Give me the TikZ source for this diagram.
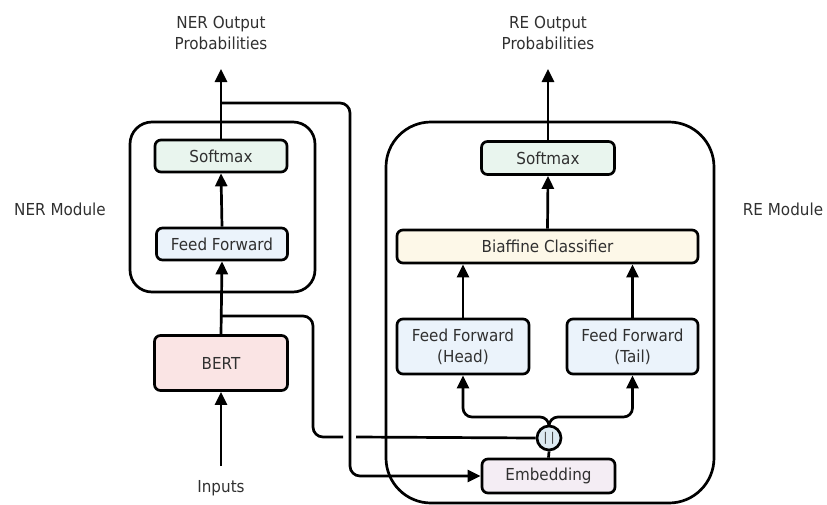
\documentclass[tikz,border=0pt]{standalone}
\usepackage{fontspec}
\setmainfont{DejaVu Sans}[FakeStretch=0.92]
\usetikzlibrary{arrows.meta,calc}
\definecolor{txt}{HTML}{303030}
\definecolor{smfill}{HTML}{E9F5EE}
\definecolor{fffill}{HTML}{EBF3FB}
\definecolor{bertfill}{HTML}{FAE4E4}
\definecolor{biafill}{HTML}{FDF8E8}
\definecolor{embfill}{HTML}{F4EDF4}
\definecolor{catfill}{HTML}{DCEAF2}
\begin{document}
\begin{tikzpicture}[x=1pt,y=-1pt,
  font=\fontsize{16.5}{21}\selectfont,
  every node/.style={text=txt},
  blk/.style={draw=black,line width=2.7pt,rounded corners=6pt,inner sep=0pt,align=center},
  module/.style={draw=black,line width=2.7pt,inner sep=0pt},
  lbl/.style={align=center,inner sep=0pt},
  ln/.style={line width=2.7pt,black},
  arr/.style={line width=2.7pt,black,-{Triangle[length=13pt,width=12pt]}}]
\useasboundingbox (0,0) rectangle (827,504);
% modules
\node[module,rounded corners=22pt,minimum width=185pt,minimum height=170pt] (nermod) at (222.5,207) {};
\node[module,rounded corners=45pt,minimum width=328pt,minimum height=381pt] (remod) at (550,312.5) {};
% NER side
\node[blk,fill=smfill,minimum width=132pt,minimum height=32pt] (nersm) at (221,156) {Softmax};
\node[blk,fill=fffill,minimum width=131pt,minimum height=32pt] (nerff) at (222,244) {Feed Forward};
\node[blk,fill=bertfill,minimum width=133pt,minimum height=55pt] (bert) at (221,363) {BERT};
% RE side
\node[blk,fill=smfill,minimum width=133pt,minimum height=33pt] (resm) at (548,158) {Softmax};
\node[blk,fill=biafill,minimum width=301pt,minimum height=33pt] (bia) at (547.5,246.5) {Biaffine Classifier};
\node[blk,fill=fffill,minimum width=132pt,minimum height=55pt] (head) at (463,346.5) {Feed Forward\\(Head)};
\node[blk,fill=fffill,minimum width=131pt,minimum height=55pt] (tail) at (632.5,346.5) {Feed Forward\\(Tail)};
\node[draw=black,line width=2.7pt,circle,fill=catfill,minimum size=24pt,inner sep=0pt,font=\fontsize{12}{12}\selectfont] (cat) at (549,438) {| |};
\node[blk,fill=embfill,minimum width=133pt,minimum height=34pt] (emb) at (548.5,476) {Embedding};
% labels
\node[lbl] (nerout) at (221,33) {NER Output\\Probabilities};
\node[lbl] (reout) at (548,33) {RE Output\\Probabilities};
\node[lbl] (inputs) at (221,488) {Inputs};
\node[lbl] (nerlab) at (60,209) {NER Module};
\node[lbl] (relab) at (783,209) {RE Module};
% coordinates
\coordinate (nertop) at (221,69);
\coordinate (retop) at (548,69);
\coordinate (inbot) at (221,466);
\coordinate (j1) at (221,316);
\coordinate (k1) at (313,437);
\coordinate (g1) at (343,437);
\coordinate (g2) at (356,437);
\coordinate (j2) at (221,103);
\coordinate (k2) at (350,103);
\coordinate (sp) at (549,417);
% NER arrows
\draw[arr] (inbot) -- (bert.south);
\draw[arr] (bert.north) -- (nerff.south);
\draw[arr] (nerff.north) -- (nersm.south);
\draw[arr] (nersm.north) -- (nertop);
% skip connections
\draw[ln,rounded corners=10pt] (j1) -| (k1) -- (g1);
\draw[ln] (g2) -- (cat.west);
\draw[arr,rounded corners=10pt] (j2) -- (k2) -- (k2 |- emb.west) -- (emb.west);
% RE arrows
\draw[ln] (cat.south) -- (emb.north);
\draw[arr,rounded corners=9pt] (cat.north) -- (sp) -| (head.south);
\draw[arr,rounded corners=9pt] (cat.north) -- (sp) -| (tail.south);
\draw[arr] (head.north) -- (head.north |- bia.south);
\draw[arr] (tail.north) -- (tail.north |- bia.south);
\draw[arr] (bia.north) -- (resm.south);
\draw[arr] (resm.north) -- (retop);
\end{tikzpicture}
\end{document}
